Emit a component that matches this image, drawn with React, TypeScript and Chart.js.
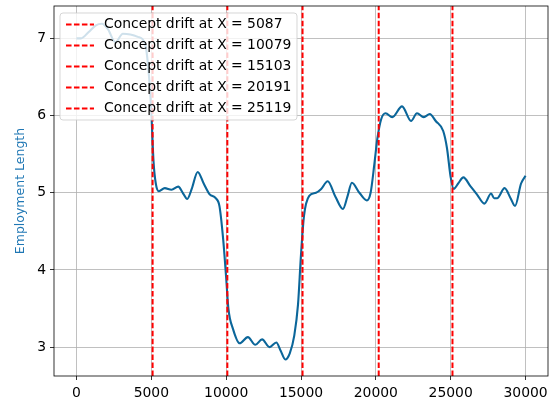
import React, { useEffect, useRef } from "react";
import { Chart, registerables } from "chart.js";

Chart.register(...registerables);

// Sample index (X) and the smoothed employment length
const sampleX = [
  0, 300, 800, 1300, 1700, 2100, 2600, 3100, 3600, 4100, 4600, 4850, 5000, 5150,
  5300, 5500, 5900, 6350, 6800, 7100, 7400, 7700, 8100, 8500, 8900, 9300, 9550,
  9800, 10000, 10150, 10450, 10900, 11450, 11950, 12400, 12900, 13350, 13650,
  13950, 14250, 14550, 14800, 15000, 15200, 15550, 16000, 16350, 16780, 17300,
  17800, 18100, 18400, 18900, 19400, 19650, 19900, 20100, 20350, 20650, 21100,
  21750, 22350, 22750, 23200, 23600, 24000, 24500, 24750, 25000, 25200, 25500,
  25850, 26300, 26750, 27250, 27700, 27900, 28100, 28600, 29000, 29300, 29700,
  30000,
];
const employmentLength = [
  7.0, 7.0, 7.08, 7.17, 7.19, 7.12, 6.95, 7.06, 7.05, 7.02, 6.92, 6.5, 6.05, 5.4,
  5.12, 5.02, 5.06, 5.04, 5.08, 5.0, 4.92, 5.05, 5.27, 5.12, 4.98, 4.93, 4.83,
  4.4, 3.9, 3.5, 3.24, 3.05, 3.13, 3.03, 3.1, 3.0, 3.06, 2.95,
  2.84, 2.92, 3.15, 3.55, 4.2, 4.7, 4.96, 5.0, 5.05, 5.15, 4.95,
  4.79, 4.95, 5.13, 5.0, 4.9, 5.0, 5.37, 5.7, 5.95, 6.03, 5.98,
  6.12, 5.93, 6.03, 5.98, 6.02, 5.93, 5.8, 5.58, 5.2, 5.05, 5.12,
  5.2, 5.09, 4.98, 4.86, 4.99, 4.93, 4.93, 5.06, 4.93, 4.83, 5.12,
  5.22,
];
const driftPoints = [5087, 10079, 15103, 20191, 25119];
const xTicks = [0, 5000, 10000, 15000, 20000, 25000, 30000];
const yTicks = [3, 4, 5, 6, 7];

const X_MIN = -1500;
const X_MAX = 31500;
const Y_MIN = 2.626;
const Y_MAX = 7.42;

const FONT = "DejaVu Sans";
const LINE_COLOR = "#0b669a";
const LABEL_COLOR = "#1f77b4";

const framePlugin = {
  id: "frameAndLegend",
  afterDatasetsDraw(chart: any) {
    const { ctx, chartArea: a } = chart;
    ctx.save();
    ctx.strokeStyle = "#000";
    ctx.lineWidth = 0.8;
    ctx.strokeRect(a.left, a.top, a.right - a.left, a.bottom - a.top);

    // legend box (upper left)
    const bx = a.left + 6;
    const by = a.top + 7;
    const bw = 237;
    const bh = 107;
    const r = 3;
    ctx.beginPath();
    ctx.moveTo(bx + r, by);
    ctx.lineTo(bx + bw - r, by);
    ctx.quadraticCurveTo(bx + bw, by, bx + bw, by + r);
    ctx.lineTo(bx + bw, by + bh - r);
    ctx.quadraticCurveTo(bx + bw, by + bh, bx + bw - r, by + bh);
    ctx.lineTo(bx + r, by + bh);
    ctx.quadraticCurveTo(bx, by + bh, bx, by + bh - r);
    ctx.lineTo(bx, by + r);
    ctx.quadraticCurveTo(bx, by, bx + r, by);
    ctx.closePath();
    ctx.fillStyle = "rgba(255,255,255,0.8)";
    ctx.fill();
    ctx.strokeStyle = "rgba(204,204,204,0.8)";
    ctx.lineWidth = 1;
    ctx.stroke();

    ctx.font = `13.9px "${FONT}"`;
    ctx.textBaseline = "middle";
    ctx.textAlign = "left";
    driftPoints.forEach((d, i) => {
      const cy = by + 11.5 + i * 21;
      ctx.beginPath();
      ctx.setLineDash([5.55, 2.4]);
      ctx.strokeStyle = "#ff0000";
      ctx.lineWidth = 2;
      ctx.moveTo(bx + 6, cy);
      ctx.lineTo(bx + 34, cy);
      ctx.stroke();
      ctx.setLineDash([]);
      ctx.fillStyle = "#000";
      ctx.fillText(`Concept drift at X = ${d}`, bx + 44, cy);
    });
    ctx.restore();
  },
};

export default function App() {
  const ref = useRef<HTMLCanvasElement | null>(null);

  useEffect(() => {
    if (!ref.current) return;
    Chart.defaults.font.family = FONT;
    const mainData = sampleX.map((x, i) => ({ x, y: employmentLength[i] }));
    const driftSets = driftPoints.map((d) => ({
      label: `Concept drift at X = ${d}`,
      data: [
        { x: d, y: Y_MIN },
        { x: d, y: Y_MAX },
      ],
      borderColor: "#ff0000",
      borderWidth: 2,
      borderDash: [5.55, 2.4],
      pointRadius: 0,
      fill: false,
      order: 0,
    }));
    const chart = new Chart(ref.current, {
      type: "line",
      data: {
        datasets: [
          {
            label: "Employment Length",
            data: mainData,
            borderColor: LINE_COLOR,
            borderWidth: 2.1,
            pointRadius: 0,
            cubicInterpolationMode: "monotone",
            fill: false,
            order: 1,
          },
          ...driftSets,
        ] as any,
      },
      options: {
        animation: false,
        responsive: false,
        events: [],
        devicePixelRatio: 1,
        layout: { padding: { top: 6, right: 7, left: 0, bottom: 0 } },
        plugins: {
          legend: { display: false },
          tooltip: { enabled: false },
        },
        scales: {
          x: {
            type: "linear",
            min: X_MIN,
            max: X_MAX,
            afterBuildTicks: (s: any) => {
              s.ticks = xTicks.map((v) => ({ value: v }));
            },
            afterFit: (s: any) => {
              s.height = 26;
              s.paddingLeft = 0;
              s.paddingRight = 0;
            },
            border: { display: false },
            grid: {
              color: "#b0b0b0",
              lineWidth: 0.8,
              drawTicks: true,
              tickLength: 4,
              tickColor: "#000",
              tickWidth: 0.8,
            },
            ticks: {
              color: "#000",
              font: { size: 13.9, family: FONT },
              padding: 5,
              maxRotation: 0,
              autoSkip: false,
              callback: (v: any) => String(v),
            },
          },
          y: {
            type: "linear",
            min: Y_MIN,
            max: Y_MAX,
            afterBuildTicks: (s: any) => {
              s.ticks = yTicks.map((v) => ({ value: v }));
            },
            afterFit: (s: any) => {
              s.width = 54;
              s.paddingTop = 0;
              s.paddingBottom = 0;
            },
            border: { display: false },
            grid: {
              color: "#b0b0b0",
              lineWidth: 0.8,
              drawTicks: true,
              tickLength: 4,
              tickColor: "#000",
              tickWidth: 0.8,
            },
            title: {
              display: true,
              text: "Employment Length",
              color: LABEL_COLOR,
              font: { size: 12.5, family: FONT },
              padding: { top: 13, bottom: 0 },
            },
            ticks: {
              color: "#000",
              font: { size: 13.9, family: FONT },
              padding: 4,
              autoSkip: false,
              callback: (v: any) => String(v),
            },
          },
        },
      } as any,
      plugins: [framePlugin],
    });
    return () => chart.destroy();
  }, []);

  return (
    <div style={{ position: "fixed", left: 0, top: 0, width: 555, height: 402, background: "#fff" }}>
      <canvas ref={ref} width={555} height={402} style={{ display: "block" }} />
    </div>
  );
}
